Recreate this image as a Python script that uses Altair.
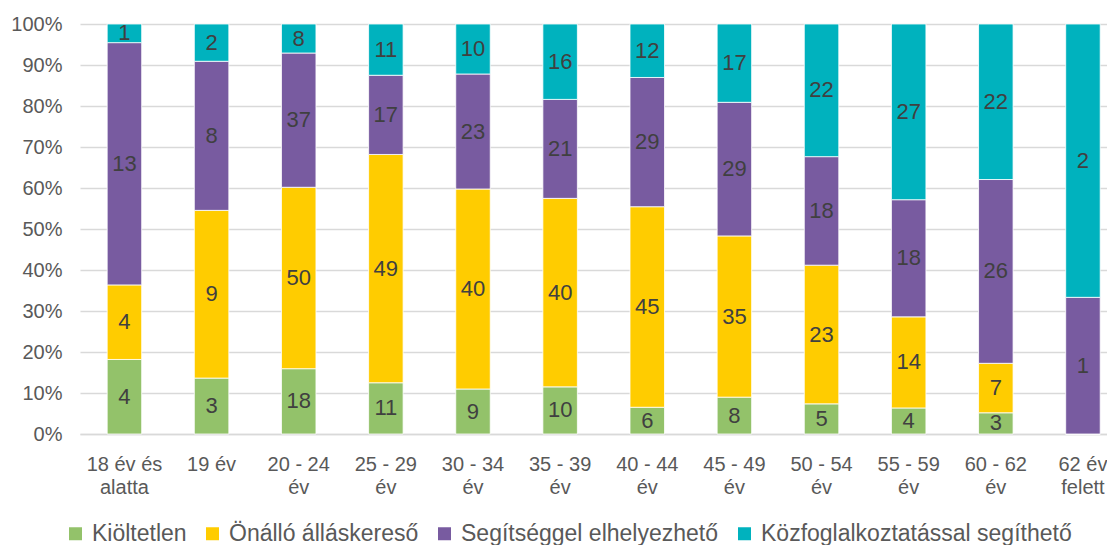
import altair as alt
import pandas as pd

categories = ["18 év és\nalatta", "19 év", "20 - 24\név", "25 - 29\név", "30 - 34\név",
              "35 - 39\név", "40 - 44\név", "45 - 49\név", "50 - 54\név", "55 - 59\név",
              "60 - 62\név", "62 év\nfelett"]
series = ["Kiöltetlen", "Önálló álláskereső", "Segítséggel elhelyezhető", "Közfoglalkoztatással segíthető"]
colors = ["#93C26A", "#FFCC00", "#785BA0", "#00B2BE"]

kioltetlen = [4, 3, 18, 11, 9, 10, 6, 8, 5, 4, 3, 0]
onallo = [4, 9, 50, 49, 40, 40, 45, 35, 23, 14, 7, 0]
segitseggel = [13, 8, 37, 17, 23, 21, 29, 29, 18, 18, 26, 1]
kozfog = [1, 2, 8, 11, 10, 16, 12, 17, 22, 27, 22, 2]

rows = []
for si, vals in enumerate([kioltetlen, onallo, segitseggel, kozfog]):
    for ci, v in enumerate(vals):
        rows.append({"cat": categories[ci], "series": series[si], "ord": si, "value": v})
df = pd.DataFrame(rows)

FONT = "Liberation Sans"

xscale = alt.Scale(domain=categories, paddingInner=0.604, paddingOuter=0.195, align=0.8)
yscale = alt.Scale(domain=[0, 1])

bars = alt.Chart(df).mark_bar(stroke="white", strokeWidth=0.8).encode(
    x=alt.X("cat:N", sort=categories, scale=xscale,
            axis=alt.Axis(title=None, labelAngle=0, labelExpr="split(datum.label, '\\n')",
                          labelFontSize=20, labelColor="#595959", labelFont=FONT,
                          labelLineHeight=23, labelPadding=20, ticks=False,
                          domainColor="#D9D9D9", domainWidth=1.5, labelBaseline="top")),
    y=alt.Y("value:Q", stack="normalize", scale=yscale,
            axis=alt.Axis(title=None, format=".0%", values=[i / 10 for i in range(11)],
                          labelFontSize=20, labelColor="#595959", labelFont=FONT,
                          ticks=False, domain=False, gridColor="#D9D9D9", gridWidth=1.5,
                          labelPadding=18)),
    color=alt.Color("series:N", scale=alt.Scale(domain=series, range=colors), sort=series,
                    legend=alt.Legend(title=None, orient="none", legendX=-16, legendY=498,
                                      direction="horizontal", symbolType="square",
                                      symbolSize=169, symbolStrokeWidth=0,
                                      labelFontSize=23, labelColor="#595959", labelFont=FONT,
                                      labelLimit=0, columnPadding=14, labelOffset=5)),
    order=alt.Order("ord:Q"),
)

labels = alt.Chart(df).transform_filter("datum.value > 0").transform_stack(
    stack="value", groupby=["cat"], sort=[alt.SortField("ord")], as_=["y0", "y1"], offset="normalize"
).transform_calculate(mid="(datum.y0 + datum.y1) / 2").mark_text(
    font=FONT, fontSize=22, color="#404040", baseline="middle"
).encode(
    x=alt.X("cat:N", sort=categories, scale=xscale),
    y=alt.Y("mid:Q", scale=yscale),
    text=alt.Text("value:Q"),
)

chart = alt.layer(bars, labels).properties(
    width=1027, height=410,
    autosize=alt.AutoSizeParams(type="none"),
    padding={"left": 72, "top": 16, "right": 0, "bottom": 112},
).configure_view(stroke=None)

chart.save("out.html", embed_options={"renderer": "svg", "actions": False})
